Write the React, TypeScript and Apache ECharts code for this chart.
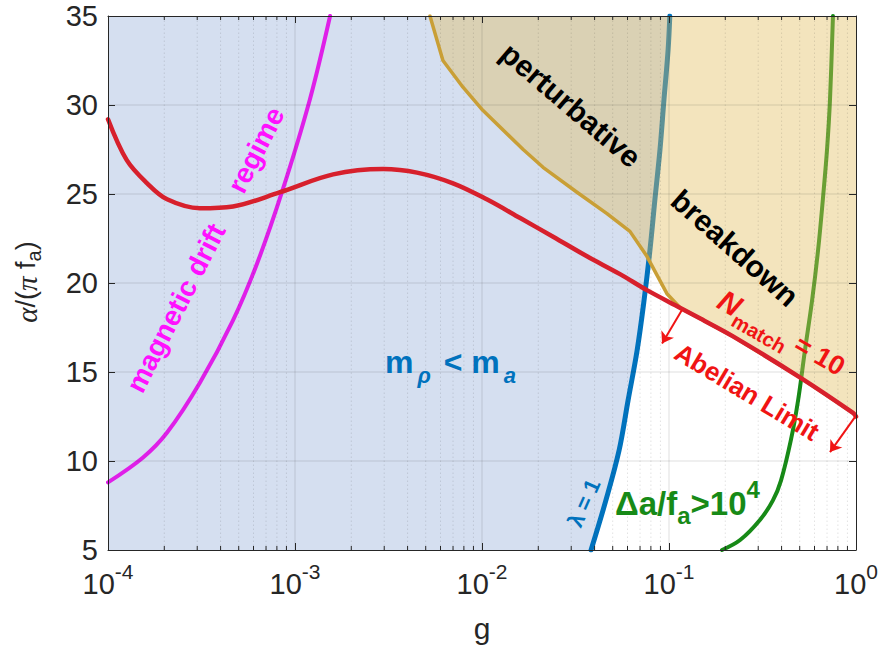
import React, { useEffect, useRef } from "react";
import * as echarts from "echarts";

// ---------- data ----------
// N_match = 10 curve (red)
const nMatchG = [1e-4, 1.26e-4, 1.62e-4, 2.07e-4, 3.1e-4, 4.66e-4, 8.32e-4, 1.6e-3, 2.96e-3, 4.49e-3, 7.0e-3, 1.06e-2, 1.6e-2, 2.4e-2, 3.64e-2, 5.47e-2, 7.62e-2, 0.115, 0.147, 0.22, 0.501, 0.964, 1];
const nMatchA = [29.2, 26.9, 25.6, 24.7, 24.2, 24.3, 25.1, 26.1, 26.4, 26.2, 25.6, 24.7, 23.65, 22.6, 21.5, 20.5, 19.6, 18.6, 18.0, 17.0, 14.7, 12.7, 12.5];

// magnetic drift regime boundary (magenta)
const driftG = [1e-4, 1.54e-4, 2.07e-4, 3.1e-4, 4.66e-4, 6.27e-4, 8.51e-4, 1.2e-3, 1.54e-3];
const driftA = [8.8, 10.2, 11.6, 14.4, 17.9, 21.1, 25.1, 30.3, 35];

// lambda = 1 curve (blue)
const lambdaG = [0.0383, 0.046, 0.0541, 0.0604, 0.0675, 0.0735, 0.0791, 0.0841, 0.0895, 0.094, 0.0989, 0.101];
const lambdaA = [5, 7.8, 10.6, 13.4, 16.2, 19.0, 21.85, 24.7, 27.5, 30.3, 33.1, 35];

// Delta a / f_a > 10^4 curve (green)
const deltaG = [0.192, 0.24, 0.307, 0.36, 0.397, 0.449, 0.49, 0.533, 0.582, 0.627, 0.665, 0.7, 0.726, 0.753];
const deltaA = [5, 5.56, 6.7, 7.8, 8.9, 11.2, 13.4, 16.2, 19.0, 21.85, 24.7, 27.5, 30.3, 35];

// perturbative breakdown boundary (gold), upper part before it joins the red curve
const pertG = [5.27e-3, 6.18e-3, 7.91e-3, 1.01e-2, 1.66e-2, 2.12e-2, 3.22e-2, 4.66e-2, 6.18e-2, 7.62e-2, 9.75e-2, 0.115];
const pertA = [35, 32.5, 31.0, 29.7, 27.5, 26.5, 25.1, 23.9, 22.9, 21.5, 19.4, 18.6];

// Abelian-limit arrows
const arrowStart = [[0.1175, 18.5], [1.0, 12.55]];
const arrowEnd = [[0.0918, 16.6], [0.726, 10.5]];

// axes
const X_MIN = 1e-4;
const X_MAX = 1;
const Y_MIN = 5;
const Y_MAX = 35;
const decades = [1e-4, 1e-3, 1e-2, 1e-1, 1];
const yTicks = [5, 10, 15, 20, 25, 30, 35];
const minorMult = [2, 3, 4, 5, 6, 7, 8, 9];

// ---------- styling ----------
const FONT = "'Liberation Sans', Arial, Helvetica, sans-serif";
const AX = "#262626";
const BLUE = "#0072bd";
const RED_LINE = "#d7202c";
const RED_TXT = "#f01414";
const GREEN = "#178a17";
const MAG_LINE = "#df1fe8";
const MAG_TXT = "#ff10ff";
const GOLD = "#c99f36";
const BLUE_FILL = "#d5dff0";
const TAN_FILL = "rgba(226,189,94,0.41)";

const zip = (g: number[], a: number[]) => g.map((v, i) => [v, a[i]]);

export default function App() {
  const ref = useRef<HTMLDivElement>(null);
  useEffect(() => {
    if (!ref.current) return;
    const chart = echarts.init(ref.current, null, { renderer: "svg" });

    const minorX: number[] = [];
    decades.slice(0, -1).forEach((d) => minorMult.forEach((m) => minorX.push(d * m)));
    const innerDecades = decades.slice(1, -1);
    const innerY = yTicks.slice(1, -1);

    const lastPert = pertG[pertG.length - 1];
    const redTail = zip(nMatchG, nMatchA).filter((p) => p[0] > lastPert);
    const tanPts = zip(pertG, pertA).concat(redTail).concat([[X_MAX, Y_MAX]]);
    const bluePts = [[X_MIN, Y_MIN]].concat(zip(lambdaG, lambdaA)).concat([[X_MIN, Y_MAX]]);
    const goldPts = zip(pertG, pertA).concat(redTail);

    const polySeries = (pts: number[][], fill: string, z: number) => ({
      type: "custom",
      z,
      silent: true,
      clip: true,
      data: [[1e-2, 20]],
      renderItem: (_p: any, api: any) => ({
        type: "polygon",
        shape: { points: pts.map((p) => api.coord(p)) },
        style: { fill, stroke: "none" },
      }),
    });

    const lineSeries = (name: string, pts: number[][], color: string, width: number, z: number, smooth: any) => ({
      name,
      type: "line",
      z,
      data: pts,
      showSymbol: false,
      symbol: "none",
      smooth,
      silent: true,
      clip: true,
      lineStyle: { color, width, cap: "round", join: "round" },
    });

    const supRich = {
      b: { fontSize: 29, fontFamily: FONT, color: AX, verticalAlign: "top", padding: [8, 0, 0, 0] },
      s: { fontSize: 21, fontFamily: FONT, color: AX, verticalAlign: "top" },
    };

    const text = (x: number, y: number, rot: number, t: string, fill: string, fontSize: number, extra: any = {}) => ({
      type: "text",
      x,
      y,
      rotation: (rot * Math.PI) / 180,
      z: 100,
      silent: true,
      style: {
        text: t,
        fill,
        fontSize,
        fontWeight: "bold",
        fontFamily: FONT,
        align: "center",
        verticalAlign: "middle",
        ...extra,
      },
    });

    const axisCommon = {
      z: 10,
      axisLine: { show: true, onZero: false, lineStyle: { color: AX, width: 1 } },
      axisTick: { show: true, inside: true, length: 7, lineStyle: { color: AX } },
      splitLine: { show: false },
    };

    const option: any = {
      animation: false,
      backgroundColor: "#ffffff",
      textStyle: { fontFamily: FONT },
      grid: { left: 108, right: 27, top: 16, bottom: 97, containLabel: false },
      xAxis: [
        {
          ...axisCommon,
          type: "log",
          logBase: 10,
          min: X_MIN,
          max: X_MAX,
          splitNumber: 4,
          position: "bottom",
          axisLabel: {
            margin: 11,
            formatter: (v: number) => `{b|10}{s|${Math.round(Math.log10(v))}}`,
            rich: supRich,
          },
        },
        {
          ...axisCommon,
          type: "log",
          logBase: 10,
          min: X_MIN,
          max: X_MAX,
          splitNumber: 4,
          position: "top",
          axisLabel: { show: false },
        },
      ],
      yAxis: [
        {
          ...axisCommon,
          type: "value",
          min: Y_MIN,
          max: Y_MAX,
          interval: 5,
          position: "left",
          axisLabel: { fontSize: 29, color: AX, margin: 10, fontFamily: FONT },
        },
        {
          ...axisCommon,
          type: "value",
          min: Y_MIN,
          max: Y_MAX,
          interval: 5,
          position: "right",
          axisLabel: { show: false },
        },
      ],
      series: [
        polySeries(bluePts, BLUE_FILL, 1),
        lineSeries("lambda", zip(lambdaG, lambdaA), BLUE, 5, 2, 0.35),
        lineSeries("delta", zip(deltaG, deltaA), GREEN, 4, 2, 0.35),
        lineSeries("drift", zip(driftG, driftA), MAG_LINE, 4, 2, 0.35),
        polySeries(tanPts, TAN_FILL, 3),
        {
          type: "custom",
          z: 4,
          silent: true,
          data: innerDecades.map((v) => [v, Y_MIN]),
          renderItem: (_p: any, api: any) => {
            const x = api.value(0);
            const p0 = api.coord([x, Y_MIN]);
            const p1 = api.coord([x, Y_MAX]);
            return {
              type: "line",
              shape: { x1: p0[0], y1: p0[1], x2: p1[0], y2: p1[1] },
              style: { stroke: "rgba(38,38,38,0.15)", lineWidth: 1 },
            };
          },
        },
        {
          type: "custom",
          z: 4,
          silent: true,
          data: innerY.map((v) => [X_MIN, v]),
          renderItem: (_p: any, api: any) => {
            const y = api.value(1);
            const p0 = api.coord([X_MIN, y]);
            const p1 = api.coord([X_MAX, y]);
            return {
              type: "line",
              shape: { x1: p0[0], y1: p0[1], x2: p1[0], y2: p1[1] },
              style: { stroke: "rgba(38,38,38,0.15)", lineWidth: 1 },
            };
          },
        },
        {
          type: "custom",
          z: 4,
          silent: true,
          data: minorX.map((v) => [v, Y_MIN]),
          renderItem: (_p: any, api: any) => {
            const x = api.value(0);
            const p0 = api.coord([x, Y_MIN]);
            const p1 = api.coord([x, Y_MAX]);
            return {
              type: "group",
              children: [
                {
                  type: "line",
                  shape: { x1: p0[0], y1: p0[1], x2: p1[0], y2: p1[1] },
                  style: { stroke: "rgba(38,38,38,0.13)", lineWidth: 1, lineDash: [1.5, 2.5] },
                },
                {
                  type: "line",
                  z2: 50,
                  shape: { x1: p0[0], y1: p0[1], x2: p0[0], y2: p0[1] - 4 },
                  style: { stroke: AX, lineWidth: 1 },
                },
                {
                  type: "line",
                  z2: 50,
                  shape: { x1: p1[0], y1: p1[1], x2: p1[0], y2: p1[1] + 4 },
                  style: { stroke: AX, lineWidth: 1 },
                },
              ],
            };
          },
        },
        lineSeries("pert", goldPts, GOLD, 3.5, 5, false),
        lineSeries("nmatch", zip(nMatchG, nMatchA), RED_LINE, 4.5, 6, 0.35),
        {
          type: "lines",
          coordinateSystem: "cartesian2d",
          z: 7,
          silent: true,
          symbol: ["none", "arrow"],
          symbolSize: [8, 11],
          lineStyle: { color: RED_TXT, width: 2, opacity: 1, curveness: 0 },
          data: arrowStart.map((s, i) => ({ coords: [s, arrowEnd[i]] })),
        },
      ],
      graphic: [
        text(176, 308, 63, "magnetic drift", MAG_TXT, 28),
        text(256, 150, 63, "regime", MAG_TXT, 28),
        text(571, 105, -40.5, "perturbative", "#000000", 30),
        text(735, 248, -41.5, "breakdown", "#000000", 30),
        text(385, 366, 0, "{m|m}{s|ρ}{m| < m}{s|a}", BLUE, 32, {
          align: "left",
          rich: {
            m: { fill: BLUE, fontSize: 32, fontWeight: "bold", fontFamily: FONT, verticalAlign: "top" },
            s: {
              fill: BLUE,
              fontSize: 22,
              fontWeight: "bold",
              fontStyle: "italic",
              fontFamily: FONT,
              verticalAlign: "top",
              padding: [19, 4, 0, 4],
            },
          },
        }),
        text(584, 503, 66, "λ = 1", BLUE, 22),
        text(615, 502, 0, "{m|Δa/f}{s|a}{m|>10}{p|4}", GREEN, 33, {
          align: "left",
          rich: {
            m: { fill: GREEN, fontSize: 33, fontWeight: "bold", fontFamily: FONT, verticalAlign: "top", padding: [10, 0, 0, 0] },
            s: { fill: GREEN, fontSize: 24, fontWeight: "bold", fontFamily: FONT, verticalAlign: "top", padding: [26, 0, 0, 0] },
            p: { fill: GREEN, fontSize: 24, fontWeight: "bold", fontFamily: FONT, verticalAlign: "top", padding: [0, 0, 0, 0] },
          },
        }),
        text(780, 336, -30, "{n|N}{s|match}{m| = 10}", RED_TXT, 27, {
          rich: {
            n: { fill: RED_TXT, fontSize: 30, fontWeight: "bold", fontStyle: "italic", fontFamily: FONT, verticalAlign: "top" },
            s: { fill: RED_TXT, fontSize: 20, fontWeight: "bold", fontFamily: FONT, verticalAlign: "top", padding: [17, 0, 0, 0] },
            m: { fill: RED_TXT, fontSize: 27, fontWeight: "bold", fontFamily: FONT, verticalAlign: "top", padding: [2, 0, 0, 0] },
          },
        }),
        text(747, 392, -31, "Abelian Limit", RED_TXT, 26),
        text(482, 628, 0, "g", AX, 30, { fontWeight: "normal" }),
        text(27, 282, 90, "{g|α}{n|/(}{g|π}{n| f}{s|a}{n|)}", AX, 27, {
          fontWeight: "normal",
          rich: {
            g: { fill: AX, fontSize: 29, fontStyle: "italic", fontFamily: "'Liberation Serif', 'DejaVu Serif', serif", verticalAlign: "top", padding: [2, 0, 0, 0] },
            n: { fill: AX, fontSize: 27, fontFamily: FONT, verticalAlign: "top", padding: [2, 0, 0, 0] },
            s: { fill: AX, fontSize: 20, fontFamily: FONT, verticalAlign: "top", padding: [14, 0, 0, 0] },
          },
        }),
      ],
    };

    chart.setOption(option);
    return () => chart.dispose();
  }, []);

  return (
    <div
      ref={ref}
      style={{ position: "absolute", left: 0, top: 0, width: 883, height: 647 }}
    />
  );
}
